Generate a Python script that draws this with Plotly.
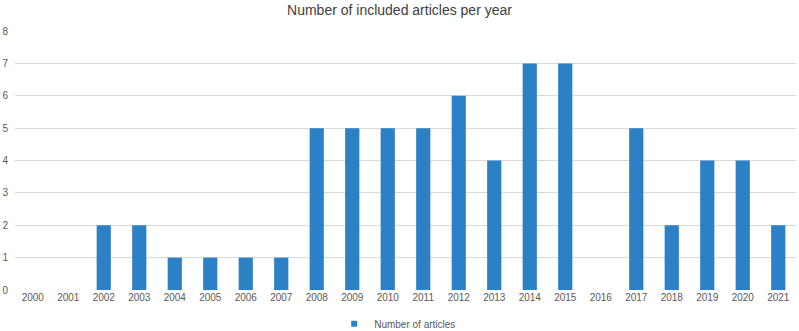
import plotly.graph_objects as go

years = ["2000", "2001", "2002", "2003", "2004", "2005", "2006", "2007", "2008", "2009", "2010",
         "2011", "2012", "2013", "2014", "2015", "2016", "2017", "2018", "2019", "2020", "2021"]
articles = [0, 0, 2, 2, 1, 1, 1, 1, 5, 5, 5, 5, 6, 4, 7, 7, 0, 5, 2, 4, 4, 2]
y_ticks = [0, 1, 2, 3, 4, 5, 6, 7, 8]
bar_color = "#2B80C6"

fig = go.Figure()
fig.add_trace(go.Bar(x=years, y=articles, name="Number of articles", showlegend=False,
                     marker=dict(color=bar_color, line=dict(width=0))))
# legend entry with a small square symbol, as in the original
fig.add_trace(go.Scatter(x=[None], y=[None], mode="markers", name="Number of articles",
                         marker=dict(symbol="square", size=6, color=bar_color)))

fig.update_layout(
    width=799, height=331,
    margin=dict(l=15, r=3, t=31, b=41, autoexpand=False),
    paper_bgcolor="white", plot_bgcolor="white",
    font=dict(family="Liberation Sans, Arial, sans-serif", size=10, color="#595959"),
    title=dict(text="Number of included articles per year", x=0.5, xanchor="center",
               yref="container", y=0.985, yanchor="top",
               font=dict(size=14, color="#404040")),
    bargap=0.6,
    showlegend=True,
    legend=dict(orientation="h", x=0.49, xanchor="center", y=-0.13, yanchor="middle",
                font=dict(size=10, color="#595959"), itemwidth=30, tracegroupgap=0),
    xaxis=dict(type="category", showgrid=False, showline=False, ticks="", zeroline=False,
               automargin=False),
    yaxis=dict(range=[0, 8], tickvals=y_ticks, showgrid=True, gridcolor="#D9D9D9",
               gridwidth=1, zeroline=False, showline=False, ticks="", ticklabelstandoff=6,
               automargin=False),
)

fig.write_html("out.html", config={"displayModeBar": False},
               post_script="document.body.style.margin='0';")
